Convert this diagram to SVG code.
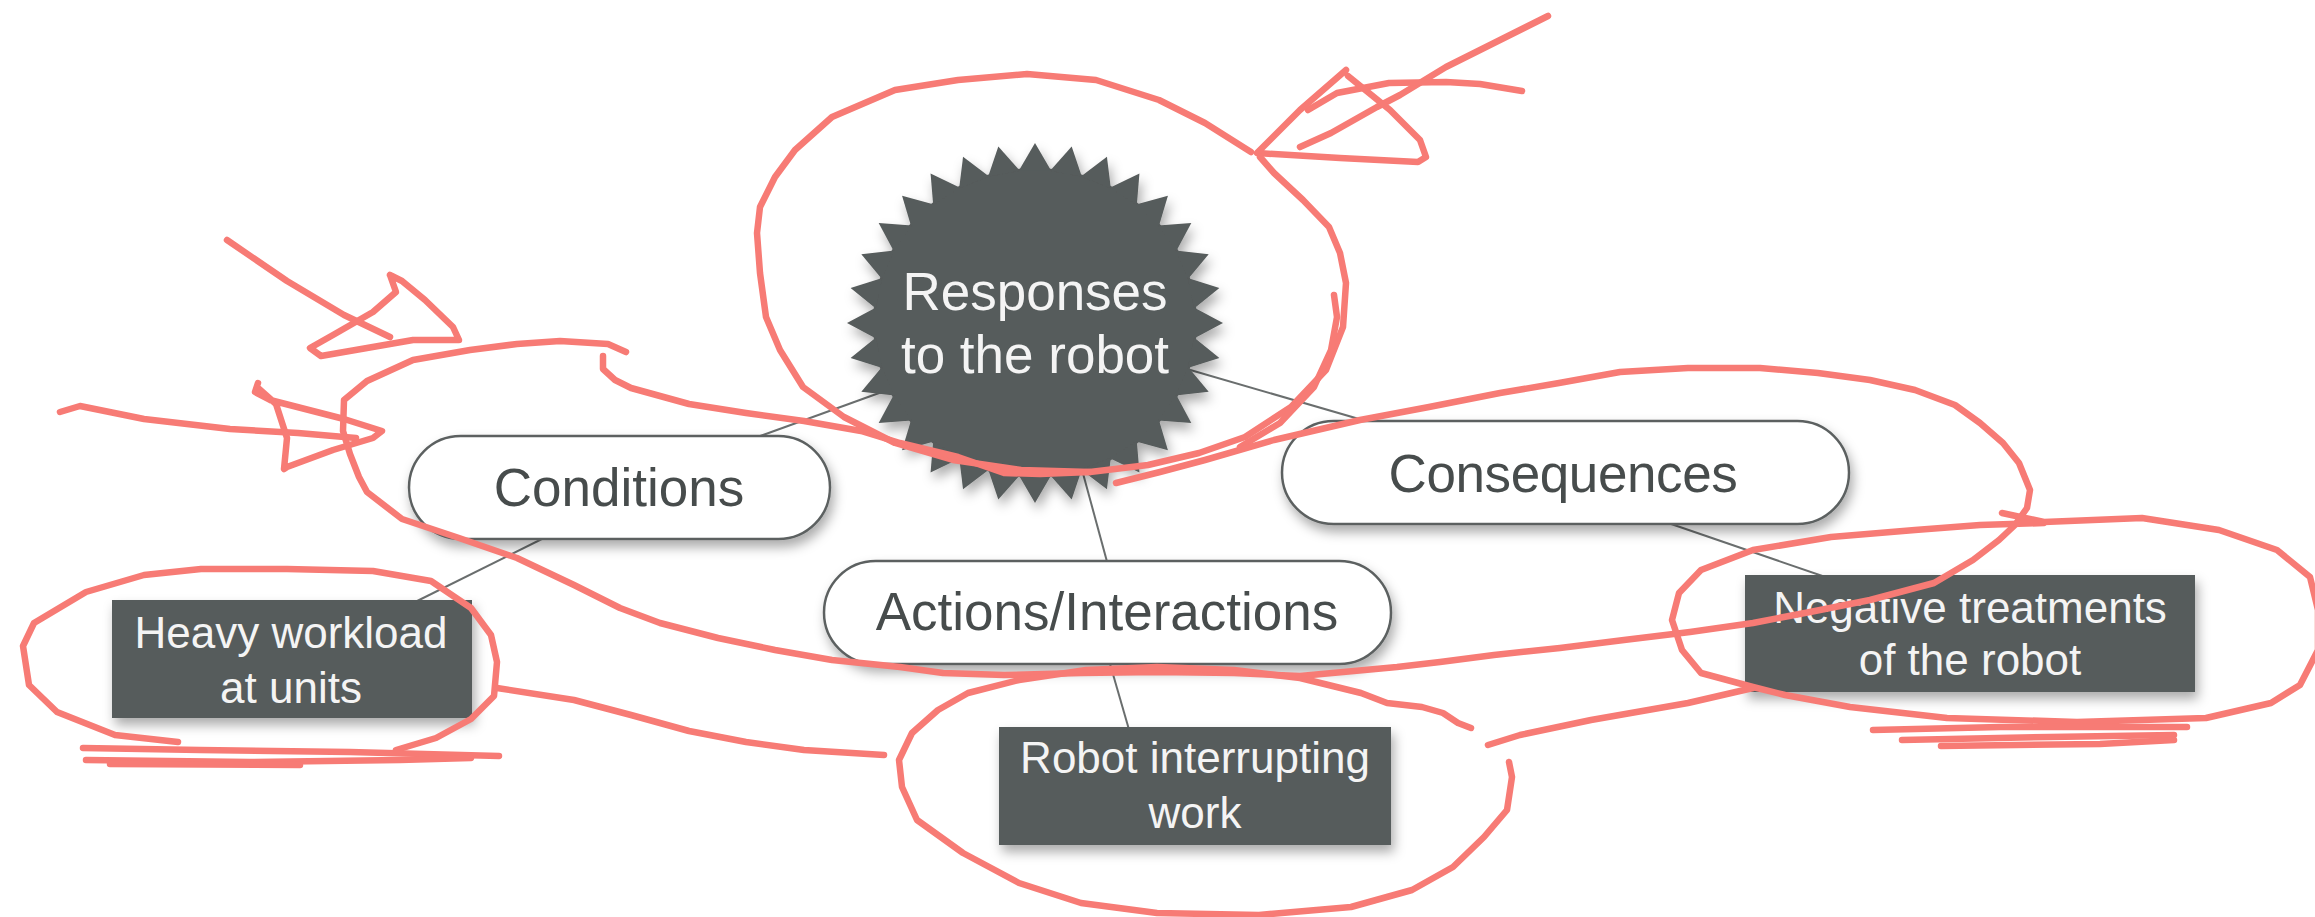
<svg xmlns="http://www.w3.org/2000/svg" xmlns:xlink="http://www.w3.org/1999/xlink" width="2315" height="917" viewBox="0 0 2315 917">
<style>
.pill{fill:#ffffff;stroke:#5c6161;stroke-width:2.5}
.box{fill:#565b5b}
.conn{stroke:#6a6e6e;stroke-width:2;fill:none}
.lt{font-family:"Liberation Sans",Arial,sans-serif;font-size:53px;fill:#474c4c;text-anchor:middle}
.wt{font-family:"Liberation Sans",Arial,sans-serif;font-size:44px;fill:#f4f4f4;text-anchor:middle}
.st{font-family:"Liberation Sans",Arial,sans-serif;font-size:53px;fill:#f4f4f4;text-anchor:middle}
.red{fill:none;stroke:#f77b75;stroke-width:6.5;stroke-linecap:round;stroke-linejoin:round}
</style>
<defs>
<filter id="sh" x="-20%" y="-20%" width="140%" height="160%">
<feDropShadow dx="3" dy="7" stdDeviation="6" flood-color="#000" flood-opacity="0.33"/>
</filter>
<path id="spike" d="M-16.2,-159 L0,-188 L16.2,-159 Z"/>
</defs>
<rect width="2315" height="917" fill="#ffffff"/>

<g id="connectors">
<line class="conn" x1="904" y1="384" x2="738" y2="444"/>
<line class="conn" x1="1180" y1="367" x2="1390" y2="428"/>
<line class="conn" x1="1078" y1="455" x2="1112" y2="580"/>
<line class="conn" x1="560" y1="530" x2="395" y2="612"/>
<line class="conn" x1="1645" y1="515" x2="1840" y2="582"/>
<line class="conn" x1="1106" y1="650" x2="1132" y2="740"/>
</g>

<g id="responses">
<g filter="url(#sh)">
<g transform="translate(1035,323) scale(1,0.957)" fill="#565b5b">
<circle r="162"/>
<use xlink:href="#spike" transform="rotate(0)"/>
<use xlink:href="#spike" transform="rotate(11.25)"/>
<use xlink:href="#spike" transform="rotate(22.5)"/>
<use xlink:href="#spike" transform="rotate(33.75)"/>
<use xlink:href="#spike" transform="rotate(45)"/>
<use xlink:href="#spike" transform="rotate(56.25)"/>
<use xlink:href="#spike" transform="rotate(67.5)"/>
<use xlink:href="#spike" transform="rotate(78.75)"/>
<use xlink:href="#spike" transform="rotate(90)"/>
<use xlink:href="#spike" transform="rotate(101.25)"/>
<use xlink:href="#spike" transform="rotate(112.5)"/>
<use xlink:href="#spike" transform="rotate(123.75)"/>
<use xlink:href="#spike" transform="rotate(135)"/>
<use xlink:href="#spike" transform="rotate(146.25)"/>
<use xlink:href="#spike" transform="rotate(157.5)"/>
<use xlink:href="#spike" transform="rotate(168.75)"/>
<use xlink:href="#spike" transform="rotate(180)"/>
<use xlink:href="#spike" transform="rotate(191.25)"/>
<use xlink:href="#spike" transform="rotate(202.5)"/>
<use xlink:href="#spike" transform="rotate(213.75)"/>
<use xlink:href="#spike" transform="rotate(225)"/>
<use xlink:href="#spike" transform="rotate(236.25)"/>
<use xlink:href="#spike" transform="rotate(247.5)"/>
<use xlink:href="#spike" transform="rotate(258.75)"/>
<use xlink:href="#spike" transform="rotate(270)"/>
<use xlink:href="#spike" transform="rotate(281.25)"/>
<use xlink:href="#spike" transform="rotate(292.5)"/>
<use xlink:href="#spike" transform="rotate(303.75)"/>
<use xlink:href="#spike" transform="rotate(315)"/>
<use xlink:href="#spike" transform="rotate(326.25)"/>
<use xlink:href="#spike" transform="rotate(337.5)"/>
<use xlink:href="#spike" transform="rotate(348.75)"/>
</g>
</g>
<text class="st" x="1035" y="310">Responses</text>
<text class="st" x="1035" y="373">to the robot</text>
</g>

<g id="conditions">
<rect class="pill" filter="url(#sh)" x="409" y="436" width="421" height="103" rx="51.5"/>
<text class="lt" x="619" y="506">Conditions</text>
</g>

<g id="consequences">
<rect class="pill" filter="url(#sh)" x="1282" y="421" width="567" height="103" rx="51.5"/>
<text class="lt" x="1563" y="492" letter-spacing="-0.4">Consequences</text>
</g>

<g id="actions">
<rect class="pill" filter="url(#sh)" x="824" y="561" width="567" height="103" rx="51.5"/>
<text class="lt" x="1107" y="630">Actions/Interactions</text>
</g>

<g id="heavy">
<rect class="box" filter="url(#sh)" x="112" y="600" width="360" height="118"/>
<text class="wt" x="291" y="648">Heavy workload</text>
<text class="wt" x="291" y="703">at units</text>
</g>

<g id="robot">
<rect class="box" filter="url(#sh)" x="999" y="727" width="392" height="118"/>
<text class="wt" x="1195" y="773">Robot interrupting</text>
<text class="wt" x="1195" y="828">work</text>
</g>

<g id="negative">
<rect class="box" filter="url(#sh)" x="1745" y="575" width="450" height="117"/>
<text class="wt" x="1970" y="623">Negative treatments</text>
<text class="wt" x="1970" y="675">of the robot</text>
</g>

<g id="annotations">
<path class="red" d="M1548,16 L1500,40 L1446,67 L1400,95 L1377,107 L1331,133 L1300,147"/>
<path class="red" d="M1522,91 L1480,84 L1446,82 L1389,83 L1337,93 L1308,110"/>
<path class="red" d="M1346,70 L1300,110 L1257,153 L1340,158 L1418,162 L1426,157 L1420,140 L1390,110 L1348,76"/>
<path class="red" d="M1260,157 L1274,173 L1303,200 L1329,227 L1340,253 L1346,283 L1343,327 L1326,370 L1291,407 L1245,437 L1199,453 L1148,465 L1090,472 L1021,470 L953,460 L895,443 L844,417 L803,387 L780,350 L766,317 L760,273 L757,233 L760,207 L775,177 L795,150 L832,117 L895,90 L958,80 L1027,74 L1096,80 L1159,100 L1205,123 L1251,152"/>
<path class="red" d="M1334,295 L1337,317 L1331,350 L1314,387 L1280,423 L1240,447"/>
<path class="red" d="M603,356 L603,369 L615,380 L631,388 L689,404 L746,413 L804,421 L861,431 L900,443 L958,457 L1004,473 L1040,474 L1090,472"/>
<path class="red" d="M1116,483 L1160,472 L1205,460 L1274,440 L1360,420 L1429,407 L1500,393 L1559,383 L1620,372 L1688,368 L1760,368 L1818,373 L1870,380 L1915,390 L1955,405 L1980,423 L2003,443 L2019,463 L2030,490 L2027,508 L2015,525 L1999,540 L1973,560 L1934,583 L1870,600 L1810,612 L1753,623 L1690,632 L1624,640 L1560,648 L1494,655 L1440,662 L1397,667 L1300,676 L1234,673 L1157,672 L1081,673 L1004,675 L943,673 L900,667 L832,660 L775,650 L718,638 L660,623 L620,608 L574,585 L517,558 L459,538 L402,519 L367,492 L359,477 L350,454 L343,431 L344,400 L367,381 L413,360 L470,350 L517,344 L560,341 L608,344 L626,352"/>
<path class="red" d="M227,240 L287,281 L344,315 L390,337"/>
<path class="red" d="M390,275 L396,292 L373,312 L333,335 L310,348 L321,356 L367,348 L413,340 L459,340 L453,327 L425,300 L402,281 L390,275"/>
<path class="red" d="M60,412 L80,406 L144,419 L230,429 L298,433 L356,438"/>
<path class="red" d="M258,383 L255,392 L270,400 L344,419 L382,431 L373,438 L333,450 L287,467 L284,469 L287,438 L276,404 L258,388"/>
<path class="red" d="M178,742 L115,735 L57,712 L29,685 L23,646 L34,623 L86,592 L144,575 L201,569 L287,569 L373,571 L431,581 L471,608 L491,635 L497,662 L494,696 L471,719 L436,738 L396,750"/>
<path class="red" d="M497,688 L574,700 L631,715 L689,731 L746,742 L804,750 L884,755"/>
<path class="red" d="M83,748 L200,750 L350,752 L499,756"/>
<path class="red" d="M86,760 L250,762 L400,760 L471,758"/>
<path class="red" d="M110,764 L300,765"/>
<path class="red" d="M1509,762 L1512,777 L1507,810 L1484,837 L1453,867 L1412,890 L1351,907 L1259,915 L1157,913 L1081,903 L1019,883 L963,853 L917,820 L902,787 L899,760 L912,733 L938,710 L968,693 L1019,680 L1086,670 L1157,667 L1234,670 L1300,678 L1361,693 L1387,703 L1422,707 L1443,713 L1458,723 L1471,728"/>
<path class="red" d="M2002,513 L2044,522 L2142,518 L2219,530 L2277,550 L2310,577 L2318,610 L2318,650 L2300,685 L2271,703 L2206,718 L2077,722 L1947,718 L1850,707 L1785,695 L1753,687 L1701,673 L1682,650 L1672,620 L1679,593 L1701,570 L1753,550 L1831,537 L1915,530 L1980,525 L2044,523"/>
<path class="red" d="M1753,688 L1688,703 L1591,720 L1520,735 L1488,745"/>
<path class="red" d="M1873,730 L2000,727 L2187,727"/>
<path class="red" d="M1902,740 L2050,737 L2174,735"/>
<path class="red" d="M1941,746 L2100,744 L2174,740"/>
</g>
</svg>
